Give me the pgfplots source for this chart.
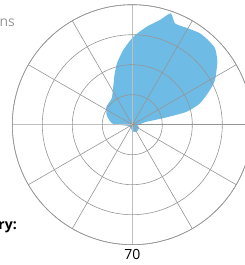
\documentclass[border=0pt]{standalone}
\usepackage{fontspec}
\setmainfont{Open Sans}
\usepackage{pgfplots}
\pgfplotsset{compat=1.18}
\usepgfplotslibrary{polar}
\definecolor{fillblue}{RGB}{110,187,230}
\definecolor{gridgrey}{RGB}{150,150,150}
\definecolor{axisgrey}{RGB}{190,190,190}
\definecolor{titlegrey}{RGB}{150,150,150}
\begin{document}
\begin{tikzpicture}
\useasboundingbox (-132.3bp,-140.3bp) rectangle (112.7bp,124.7bp);
\clip (-132.3bp,-140.3bp) rectangle (112.7bp,124.7bp);
\begin{polaraxis}[
  at={(0,0)}, anchor=center,
  scale only axis, width=240bp, height=240bp,
  xmin=0, xmax=360, ymin=0, ymax=120,
  xtick={0,90,180,270},
  minor xtick={30,60,120,150,210,240,300,330},
  ytick={30,60,90,120},
  xticklabels={}, yticklabels={},
  major tick length=0pt, minor tick length=0pt,
  xmajorgrids, xminorgrids, ymajorgrids,
  major x grid style={axisgrey, line width=1.3bp},
  minor x grid style={gridgrey, line width=0.6bp},
  major y grid style={gridgrey, line width=0.6bp},
  axis line style={gridgrey, line width=0.6bp},
  axis on top,
]
\addplot[fill=fillblue, draw=none, smooth, tension=0.35] table {
theta r
0 4
5 8
11 13
11.8 14.7
12.1 35.2
13.4 55.9
17.5 71.0
24.1 85.1
28.4 94.0
36.5 105.8
42.7 112.6
48.9 113.7
53.5 113.7
58 112
62.5 110.5
67.2 110.0
71.0 117.8
75.2 108.3
81.6 99.1
89.3 88.0
96.9 75.2
104.0 63.3
109.7 52.8
116.6 42.5
128.0 33.5
145.1 31.5
159.3 27.4
170 23
177.9 19.0
185 8
200 4
230 3
260 5
275 6.8
297 8.2
315 8
334 7.5
350 6
360 4
};
\end{polaraxis}
\node[anchor=base, font=\fontsize{14bp}{16bp}\selectfont] at (0bp,-134.5bp) {70};
\node[anchor=base east, inner sep=0pt, text=titlegrey, font=\fontsize{14bp}{16bp}\selectfont] at (-117.3bp,98.2bp) {Directions};
\node[anchor=base east, inner sep=0pt, font=\bfseries\fontsize{14bp}{16bp}\selectfont] at (-115.3bp,-104.5bp) {Category:};
\end{tikzpicture}
\end{document}
